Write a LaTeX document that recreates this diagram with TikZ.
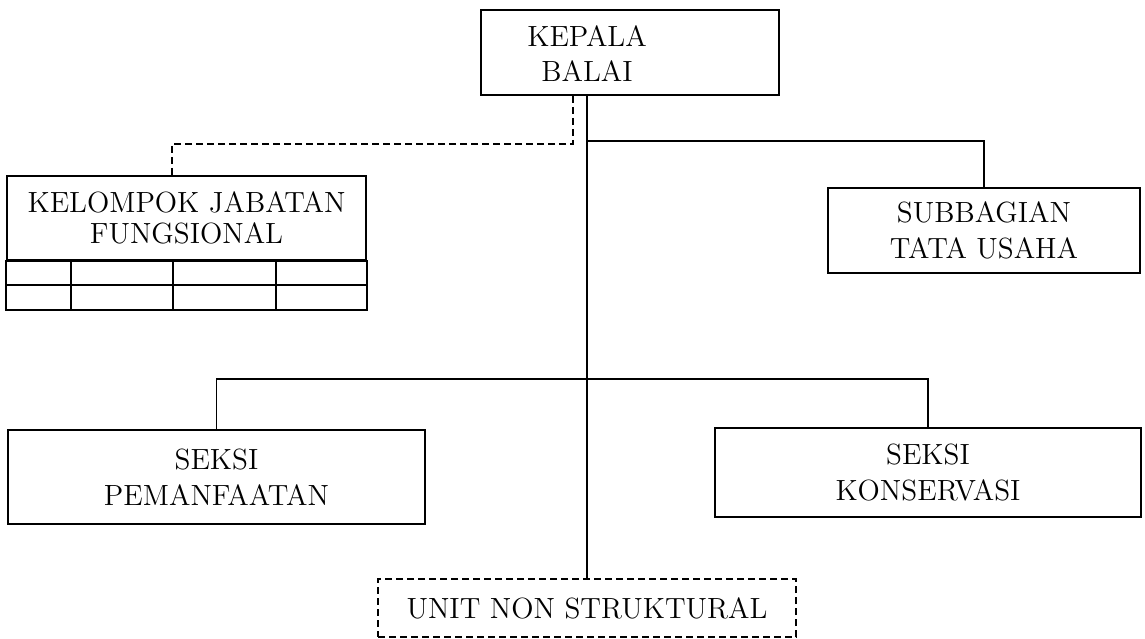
\documentclass[tikz,border=0pt]{standalone}
\usepackage{tikz}
\usetikzlibrary{calc}

\begin{document}
\begin{tikzpicture}[x=0.5pt,y=-0.5pt,
	every node/.style={font=\fontsize{14.6}{17.8}\selectfont},
	unitbox/.style={draw,line width=0.8pt,inner sep=0pt,align=center},
	garis/.style={line width=0.8pt},
	garistebal/.style={line width=1.4pt},
	putus/.style={line width=0.8pt,dash pattern=on 3.5pt off 2pt}]
	\useasboundingbox (0,0) rectangle (1145,638);
	\node[unitbox,minimum width=149pt,minimum height=42.5pt] (kepala) at (630,52.5) {};
	\node[align=center] (kepalatext) at (587,53.5) {KEPALA\\BALAI};
	\node[unitbox,minimum width=179.5pt,minimum height=42pt,font=\fontsize{14.6}{15.8}\selectfont] (kjf) at (186.5,218) {KELOMPOK JABATAN\\FUNGSIONAL};
	\node[unitbox,minimum width=156pt,minimum height=42.5pt] (subbag) at (984,230.5) {SUBBAGIAN\\TATA USAHA};
	\node[unitbox,minimum width=208.5pt,minimum height=47pt] (pemanf) at (216.5,477) {SEKSI\\PEMANFAATAN};
	\node[unitbox,minimum width=213pt,minimum height=44.5pt] (konserv) at (928,472.5) {SEKSI\\KONSERVASI};
	\node[unitbox,putus,minimum width=209pt,minimum height=29pt] (unit) at (587,608) {UNIT NON STRUKTURAL};
	\draw[garis] (kjf.south west) rectangle ($(kjf.south east)+(0,49)$);
	\draw[garis] ($(kjf.south west)+(0,24)$) -- ($(kjf.south east)+(0,24)$);
	\foreach \x in {65,167,270}
		\draw[garis] ($(kjf.south west)+(\x,0)$) -- ++(0,49);
	\draw[garis] (kepala.south -| unit.north) -- (unit.north);
	\draw[garistebal] (kepala.south -| unit.north) -- ++(0,45) coordinate (cabang);
	\draw[garis] (cabang) -| (subbag.north);
	\draw[putus] ($(kepala.south -| unit.north)+(-14,0)$) -- ++(0,48) -| ($(kjf.north)+(-14.5,0)$);
	\draw[garis] (pemanf.north) -- ++(0,-50) -| (konserv.north);
\end{tikzpicture}
\end{document}
